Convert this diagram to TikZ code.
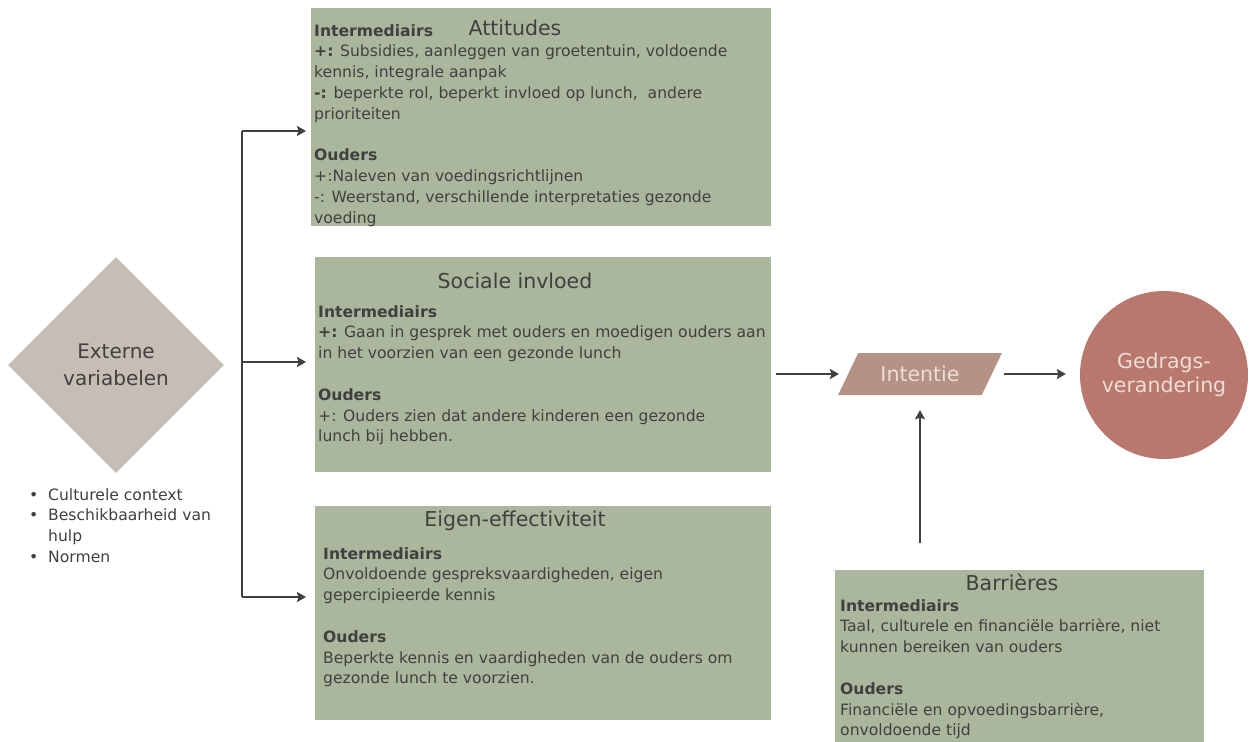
\documentclass[tikz,border=0pt]{standalone}
\usepackage{fontspec}
\setmainfont{DejaVu Sans}
\usepackage{tikz}
\usetikzlibrary{shapes,arrows,arrows.meta}
\usetikzlibrary{positioning}
\definecolor{salie}{RGB}{170,183,156}
\definecolor{steen}{RGB}{198,190,181}
\definecolor{roze}{RGB}{180,146,133}
\definecolor{roest}{RGB}{184,120,110}
\definecolor{donker}{RGB}{64,64,64}
\definecolor{licht}{RGB}{238,222,214}
\newcommand{\blt}{\makebox[19pt][l]{\textbullet}}
\tikzset{
  box/.style={fill=salie, draw=none, anchor=north west, inner sep=0},
  kop/.style={text=donker, font=\fontsize{20.5}{24}\selectfont},
  tekst/.style={text=donker, anchor=north west, inner sep=0, align=left,
    font=\fontsize{15.6}{20.8}\selectfont},
  ruit/.style={diamond, fill=steen, inner sep=0, minimum width=216, minimum height=216,
    align=center, text=donker, font=\fontsize{20}{27}\selectfont},
  para/.style={trapezium, trapezium left angle=51, trapezium right angle=129,
    trapezium stretches=true,
    fill=roze, inner sep=0, minimum width=164, minimum height=42, text=licht,
    font=\fontsize{20.5}{24}\selectfont},
  cirkel/.style={circle, fill=roest, inner sep=0, minimum size=168, align=center,
    text=licht, font=\fontsize{20.5}{24}\selectfont},
  lijn/.style={draw=donker, line width=1.7pt},
  pijl/.style={lijn, ->}
}
\begin{document}
\begin{tikzpicture}[> = {Stealth[length=9pt,width=10pt,inset=1.5pt]}, x=1pt, y=-1pt]
        \fill[white] (0,0) rectangle (1251,742);
        \useasboundingbox (0,0) rectangle (1251,742);

        % vakken
        \node[box, minimum width=460, minimum height=218] (att) at (311,8)   {};
        \node[box, minimum width=456, minimum height=215] (soc) at (315,257) {};
        \node[box, minimum width=456, minimum height=214] (eig) at (315,506) {};
        \node[box, minimum width=369, minimum height=172] (bar) at (835,570) {};

        \node[kop] (att-t) at (515,28)  {Attitudes};
        \node[kop] (soc-t) at (515,281) {Sociale invloed};
        \node[kop] (eig-t) at (515,521) {Eigen-effectiviteit};
        \node[kop] (bar-t) at (1012,582) {Barrières};

        \node[tekst] (att-b) at (314,24) {\textbf{Intermediairs}\\
          \textbf{+:} Subsidies, aanleggen van groetentuin, voldoende\\
          kennis, integrale aanpak\\
          \textbf{-:} beperkte rol, beperkt invloed op lunch,\ \ andere\\
          prioriteiten\\[20.8pt]
          \textbf{Ouders}\\
          +:Naleven van voedingsrichtlijnen\\
          -: Weerstand, verschillende interpretaties gezonde\\
          voeding};
        \node[tekst] (soc-b) at (318,305) {\textbf{Intermediairs}\\
          \textbf{+:} Gaan in gesprek met ouders en moedigen ouders aan\\
          in het voorzien van een gezonde lunch\\[20.8pt]
          \textbf{Ouders}\\
          +: Ouders zien dat andere kinderen een gezonde\\
          lunch bij hebben.};
        \node[tekst] (eig-b) at (323,547) {\textbf{Intermediairs}\\
          Onvoldoende gespreksvaardigheden, eigen\\
          gepercipieerde kennis\\[20.8pt]
          \textbf{Ouders}\\
          Beperkte kennis en vaardigheden van de ouders om\\
          gezonde lunch te voorzien.};
        \node[tekst] (bar-b) at (840,599) {\textbf{Intermediairs}\\
          Taal, culturele en financiële barrière, niet\\
          kunnen bereiken van ouders\\[20.8pt]
          \textbf{Ouders}\\
          Financiële en opvoedingsbarrière,\\
          onvoldoende tijd};

        % externe variabelen
        \node[ruit] (ext) at (116,365) {Externe\\variabelen};
        \node[tekst] (ext-l) at (29,488) {\blt Culturele context\\
          \blt Beschikbaarheid van\\
          \hphantom{\blt}hulp\\
          \blt Normen};

        \node[para]   (int) at (920,374)  {Intentie};
        \node[cirkel] (ged) at (1164,375) {Gedrags-\\verandering};

        % verbindingen
        \coordinate (br-top) at (242,131);
        \coordinate (br-mid) at (242,362);
        \coordinate (br-bot) at (242,597);
        \draw[lijn] (br-top) -- (br-bot);
        \draw[pijl, shorten >=5pt]  (br-top) -- (br-top -| att.west);
        \draw[pijl, shorten >=9pt] (br-mid) -- (br-mid -| soc.west);
        \draw[pijl, shorten >=9pt] (br-bot) -- (br-bot -| eig.west);
        \draw[pijl, shorten <=5pt, shorten >=9pt]  (soc.east |- int.west) -- (int.west);
        \draw[pijl, shorten <=12pt, shorten >=14pt] (int.east) -- (int.east -| ged.west);
        \draw[pijl, shorten <=27pt, shorten >=15pt] (int.south |- bar.north) -- (int.south);
\end{tikzpicture}
\end{document}
